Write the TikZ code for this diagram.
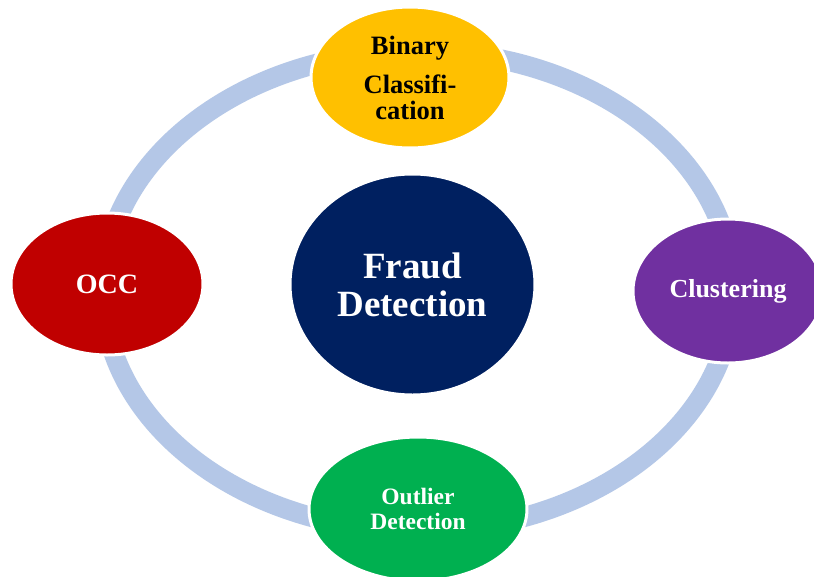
\documentclass[tikz,border=0pt]{standalone}
\usepackage{fontspec}
\setmainfont{Liberation Serif}
\usetikzlibrary{shapes.geometric}
\definecolor{ringblue}{HTML}{B4C7E7}
\definecolor{cgold}{HTML}{FFC000}
\definecolor{cpurple}{HTML}{7030A0}
\definecolor{cred}{HTML}{C00000}
\definecolor{cgreen}{HTML}{00B050}
\definecolor{cnavy}{HTML}{002060}
\tikzset{
  blob/.style={ellipse, draw=white, line width=3pt, inner sep=0pt, align=center},
  ringline/.style={draw=ringblue, line width=20pt}
}
\begin{document}
\begin{tikzpicture}[x=1pt,y=-1pt]
\useasboundingbox (0,0) rectangle (814,576);
\clip (0,0) rectangle (814,576);
\fill[white] (0,0) rectangle (814,576);
\coordinate (ringc) at (418,291);
\draw[ringline] (ringc) ellipse [x radius=315, y radius=240];
\node[blob, fill=cnavy, text=white, minimum width=245pt, minimum height=221pt,
  font=\fontsize{37}{38}\selectfont\bfseries] (fraud) at (412.5,284.5) {Fraud\\Detection};
\node[blob, fill=cgold, text=black, minimum width=198pt, minimum height=141pt,
  font=\fontsize{26.5}{26}\selectfont\bfseries] (binary) at (410,77.5) {Binary\\[13pt]Classifi-\\cation};
\node[blob, fill=cpurple, text=white, minimum width=190pt, minimum height=144pt,
  font=\fontsize{26}{26}\selectfont\bfseries] (clust) at (728,291) {Clustering};
\node[blob, fill=cred, text=white, minimum width=192pt, minimum height=142pt,
  font=\fontsize{28}{28}\selectfont\bfseries] (occ) at (107,284) {OCC};
\node[blob, fill=cgreen, text=white, minimum width=218pt, minimum height=144pt,
  font=\fontsize{23.5}{25}\selectfont\bfseries] (outlier) at (418,509) {Outlier\\Detection};
\end{tikzpicture}
\end{document}
